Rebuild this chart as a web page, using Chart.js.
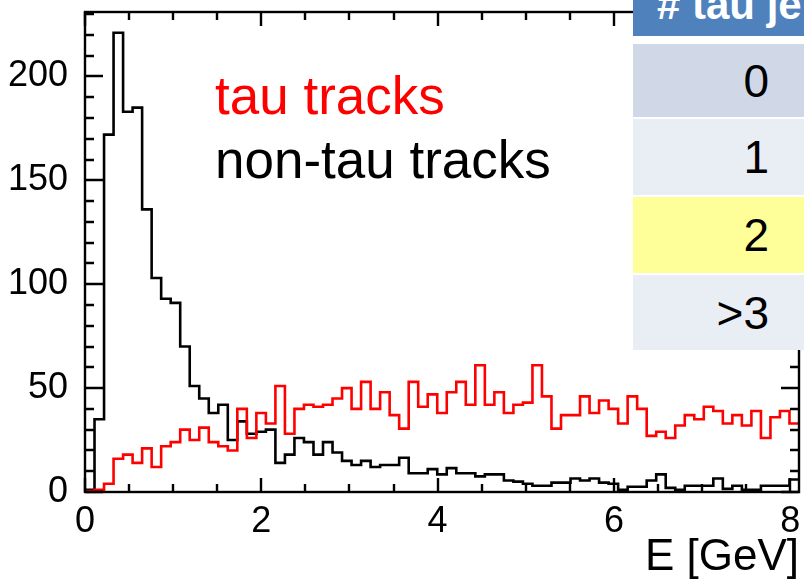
<!DOCTYPE html>
<html>
<head>
<meta charset="utf-8">
<script src="https://cdn.jsdelivr.net/npm/chart.js@4.4.0/dist/chart.umd.min.js"></script>
<style>
  body { margin: 0; background: #fff; }
  #wrap { position: relative; width: 804px; height: 583px; overflow: hidden;
          font-family: "Liberation Sans", Arial, sans-serif; }
  #c { position: absolute; left: 0; top: 0; }
  .leg { position: absolute; font-size: 53px; line-height: 1; white-space: nowrap; }
  #table { position: absolute; left: 633px; top: 0; width: 171px; height: 350px; background: #fff; }
  #table .th { position: absolute; left: 0; top: 0; width: 171px; height: 36px; background: #4F81BD; overflow: hidden; }
  #table .th span { position: absolute; left: 24px; top: -16px; font-size: 42px; line-height: 1;
                    font-weight: bold; color: #fff; white-space: nowrap; }
  #table .row { position: absolute; left: 0; width: 171px; display: flex; align-items: center;
                justify-content: flex-end; box-sizing: border-box; padding-right: 35px;
                font-size: 46px; line-height: 1; color: #000; }
</style>
</head>
<body>
<div id="wrap">
  <canvas id="c" width="804" height="583"></canvas>
  <div class="leg" style="left:215px;top:69px;color:#ff0000">tau tracks</div>
  <div class="leg" style="left:215px;top:133px;color:#000">non-tau tracks</div>
  <div id="table">
    <div class="th"><span># tau jets</span></div>
    <div class="row" style="top:44px;height:73px;background:#D0D8E8">0</div>
    <div class="row" style="top:119px;height:76px;background:#E9EDF4">1</div>
    <div class="row" style="top:197px;height:76px;background:#FFFF99">2</div>
    <div class="row" style="top:275px;height:75px;background:#E9EDF4">&gt;3</div>
  </div>
</div>
<script>
// 75 bins from 0 to 8.1 GeV
var binWidth = 0.108;

var tauCounts = [0.5, 1, 4, 16, 18, 14, 21, 12, 22, 24,
                 30, 25, 31, 24, 22, 20, 40, 26, 38, 33,
                 51, 28, 40, 42, 41, 42, 45, 50, 40, 53,
                 40, 48, 37, 30.5, 53, 41, 47, 38, 48, 53,
                 42, 61, 42, 48, 38, 42, 43, 61, 46, 30.5,
                 37, 37, 46, 38, 44, 40, 33, 46, 40, 27,
                 29, 26, 32, 37, 35, 41, 39, 33, 37, 32,
                 39, 26, 36, 39, 33];

var nonTauCounts = [1, 35, 172, 221, 183, 185, 136, 103, 93, 91,
                    70, 51, 45, 38, 42, 25, 34, 28, 29, 30,
                    14, 18, 26, 24, 18, 24, 19, 15, 13, 15,
                    12, 13, 13, 16.5, 9, 9, 11, 8.5, 11.5, 9,
                    9, 7.5, 8.5, 8.5, 5.5, 5, 4, 3, 3, 4.5,
                    4.5, 6.5, 5.5, 6.5, 4.5, 4, 1, 2.5, 2.5, 5.5,
                    8.5, 2, 1, 3, 3, 3, 6.5, 1.5, 3, 1,
                    1, 3, 3, 3, 6];

var xTicks = [0, 2, 4, 6, 8];
var yTicks = [0, 50, 100, 150, 200];

var fontFamily = "'Liberation Sans', Arial, sans-serif";

// left edge of each bin, plus the closing right edge
function toSteps(counts) {
    var pts = counts.map(function (v, i) { return { x: i * binWidth, y: v }; });
    pts.push({ x: counts.length * binWidth, y: counts[counts.length - 1] });
    return pts;
}

// ROOT style frame with inward ticks on all four sides
var frameTicks = {
    id: 'frameTicks',
    afterDatasetsDraw: function (chart) {
        var ctx = chart.ctx, a = chart.chartArea;
        var x = chart.scales.x, y = chart.scales.y;
        ctx.save();
        ctx.strokeStyle = '#000';
        ctx.lineWidth = 2.4;
        ctx.beginPath();
        for (var i = 0; i <= 16; i++) {
            var v = i * 0.5;
            var px = Math.round(x.getPixelForValue(v));
            var len = xTicks.indexOf(v) >= 0 ? 14 : 8;
            ctx.moveTo(px, a.bottom); ctx.lineTo(px, a.bottom - len);
            ctx.moveTo(px, a.top); ctx.lineTo(px, a.top + len);
        }
        for (var j = 0; j <= 23; j++) {
            var w = j * 10;
            var py = Math.round(y.getPixelForValue(w));
            var l = yTicks.indexOf(w) >= 0 ? 18 : 9;
            ctx.moveTo(a.left, py); ctx.lineTo(a.left + l, py);
            ctx.moveTo(a.right, py); ctx.lineTo(a.right - l, py);
        }
        ctx.stroke();
        ctx.strokeRect(a.left, a.top, a.right - a.left, a.bottom - a.top);
        ctx.restore();
    }
};

new Chart(document.getElementById('c'), {
    type: 'line',
    data: {
        datasets: [{
            label: 'tau tracks',
            data: toSteps(tauCounts),
            borderColor: '#ff0000',
            borderWidth: 2.6,
            stepped: true,
            pointRadius: 0,
            fill: false
        }, {
            label: 'non-tau tracks',
            data: toSteps(nonTauCounts),
            borderColor: '#000000',
            borderWidth: 2.6,
            stepped: true,
            pointRadius: 0,
            fill: false
        }]
    },
    options: {
        responsive: false,
        animation: false,
        devicePixelRatio: 1,
        layout: { padding: { top: 12, right: 5, left: 0, bottom: 0 } },
        plugins: { legend: { display: false }, tooltip: { enabled: false } },
        scales: {
            x: {
                type: 'linear',
                min: 0,
                max: 8.1,
                grid: { display: false, drawTicks: false },
                border: { display: false },
                afterBuildTicks: function (s) { s.ticks = xTicks.map(function (v) { return { value: v }; }); },
                afterFit: function (s) { s.height = 91; s.paddingLeft = 0; s.paddingRight = 0; },
                ticks: { font: { family: fontFamily, size: 36 }, color: '#000', padding: 8, maxRotation: 0, autoSkip: false },
                title: {
                    display: true, text: 'E [GeV]', align: 'end', color: '#000', padding: 0,
                    font: { family: fontFamily, size: 44, lineHeight: 1.14 }
                }
            },
            y: {
                type: 'linear',
                min: 0,
                max: 231,
                grid: { display: false, drawTicks: false },
                border: { display: false },
                afterBuildTicks: function (s) { s.ticks = yTicks.map(function (v) { return { value: v }; }); },
                afterFit: function (s) { s.width = 85; s.paddingTop = 0; s.paddingBottom = 0; },
                ticks: { font: { family: fontFamily, size: 36 }, color: '#000', padding: 17 }
            }
        }
    },
    plugins: [frameTicks]
});
</script>
</body>
</html>
